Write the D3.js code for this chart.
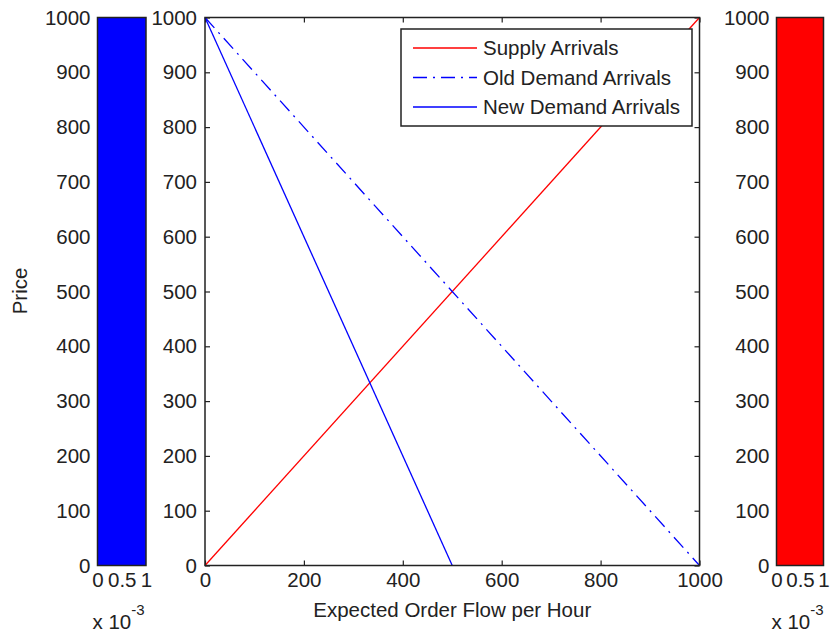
<!DOCTYPE html>
<html>
<head>
<meta charset="utf-8">
<script src="https://cdn.jsdelivr.net/npm/d3@7"></script>
<style>
  body { margin: 0; background: #fff; }
  svg text { font-family: "Liberation Sans", Arial, Helvetica, sans-serif; fill: #222; }
</style>
</head>
<body>
<div id="main-frame"></div>
<script>
// data
const priceTicks = [0, 100, 200, 300, 400, 500, 600, 700, 800, 900, 1000];
const flowTicks = [0, 200, 400, 600, 800, 1000];
const sideTicks = [0, 0.5, 1];
const sideBarX = [0, 1];        // x 10^-3
const sideBarPrice = 1000;

const supplyFlow = [0, 1000];
const supplyPrice = [0, 1000];
const oldDemandFlow = [0, 1000];
const oldDemandPrice = [1000, 0];
const newDemandFlow = [0, 500];
const newDemandPrice = [1000, 0];

const seriesNames = ["Supply Arrivals", "Old Demand Arrivals", "New Demand Arrivals"];

const width = 830, height = 636;
const fontSize = 20.5;

const svg = d3.select("#main-frame")
  .append("svg")
  .attr("width", width)
  .attr("height", height);

const yScale = d3.scaleLinear().domain([0, 1000]).range([565.5, 17.5]);
const xScale = d3.scaleLinear().domain([0, 1000]).range([205, 699.5]);
const leftX = d3.scaleLinear().domain([0, 1]).range([97.5, 146]);
const rightX = d3.scaleLinear().domain([0, 1]).range([776.5, 823.5]);
const fmt = d3.format("d");

function styleAxis(g) {
  g.select(".domain").remove();
  g.selectAll(".tick line").attr("stroke", "#222").attr("stroke-width", 1.2);
  g.selectAll(".tick text")
    .style("font-size", fontSize + "px")
    .style("font-family", "'Liberation Sans', Arial, sans-serif")
    .attr("fill", "#222");
}

// side panels (colour bars)
function sidePanel(xs, color) {
  const g = svg.append("g");
  g.append("rect")
    .attr("x", xs(sideBarX[0]))
    .attr("y", yScale(sideBarPrice))
    .attr("width", xs(sideBarX[1]) - xs(sideBarX[0]))
    .attr("height", yScale(0) - yScale(sideBarPrice))
    .attr("fill", color)
    .attr("stroke", "#222")
    .attr("stroke-width", 1.5);

  g.append("g")
    .attr("transform", `translate(${xs(0)},0)`)
    .call(d3.axisLeft(yScale).tickValues(priceTicks).tickSize(0).tickPadding(7).tickFormat(fmt))
    .call(styleAxis);

  g.append("g")
    .attr("transform", `translate(0,${yScale(0)})`)
    .call(d3.axisBottom(xs).tickValues(sideTicks).tickSize(0).tickPadding(7)
      .tickFormat(d => d === 0.5 ? "0.5" : String(d)))
    .call(styleAxis);

  const exp = g.append("text")
    .attr("x", xs(0) - 5)
    .attr("y", 629)
    .style("font-size", fontSize + "px");
  exp.append("tspan").text("x 10");
  exp.append("tspan").attr("dy", -14).style("font-size", "15px").text("-3");
}

sidePanel(leftX, "#0000ff");
sidePanel(rightX, "#ff0000");

// Price label
svg.append("text")
  .attr("transform", `translate(27,291) rotate(-90)`)
  .attr("text-anchor", "middle")
  .style("font-size", fontSize + "px")
  .text("Price");

// main axes
const main = svg.append("g");

main.append("g")
  .attr("transform", `translate(${xScale(0)},0)`)
  .call(d3.axisLeft(yScale).tickValues(priceTicks).tickSize(-5).tickPadding(8).tickFormat(fmt))
  .call(styleAxis);
main.append("g")
  .attr("transform", `translate(${xScale(1000)},0)`)
  .call(d3.axisRight(yScale).tickValues(priceTicks).tickSize(-5).tickFormat(""))
  .call(styleAxis);
main.append("g")
  .attr("transform", `translate(0,${yScale(0)})`)
  .call(d3.axisBottom(xScale).tickValues(flowTicks).tickSize(-5).tickPadding(7).tickFormat(fmt))
  .call(styleAxis);
main.append("g")
  .attr("transform", `translate(0,${yScale(1000)})`)
  .call(d3.axisTop(xScale).tickValues(flowTicks).tickSize(-5).tickFormat(""))
  .call(styleAxis);

main.append("text")
  .attr("x", (xScale(0) + xScale(1000)) / 2)
  .attr("y", 617)
  .attr("text-anchor", "middle")
  .style("font-size", fontSize + "px")
  .text("Expected Order Flow per Hour");

// lines
const line = d3.line().x(d => xScale(d[0])).y(d => yScale(d[1]));
const series = [
  { pts: d3.zip(supplyFlow, supplyPrice), color: "#ff0000", dash: null },
  { pts: d3.zip(oldDemandFlow, oldDemandPrice), color: "#0000ff", dash: "14,6,2,6" },
  { pts: d3.zip(newDemandFlow, newDemandPrice), color: "#0000ff", dash: null }
];

main.selectAll("path.series")
  .data(series)
  .enter()
  .append("path")
  .attr("class", "series")
  .attr("d", d => line(d.pts))
  .attr("fill", "none")
  .attr("stroke", d => d.color)
  .attr("stroke-width", 1.3)
  .attr("stroke-dasharray", d => d.dash);

// box
main.append("rect")
  .attr("x", xScale(0))
  .attr("y", yScale(1000))
  .attr("width", xScale(1000) - xScale(0))
  .attr("height", yScale(0) - yScale(1000))
  .attr("fill", "none")
  .attr("stroke", "#222")
  .attr("stroke-width", 1.5);

// legend
const legend = main.append("g").attr("transform", "translate(401,29)");
legend.append("rect")
  .attr("width", 291)
  .attr("height", 97)
  .attr("fill", "#fff")
  .attr("stroke", "#222")
  .attr("stroke-width", 1.5);

const rows = legend.selectAll("g.row")
  .data(series)
  .enter()
  .append("g")
  .attr("class", "row")
  .attr("transform", (d, i) => `translate(0,${19 + i * 29.5})`);

rows.append("line")
  .attr("x1", 12).attr("x2", 76)
  .attr("stroke", d => d.color)
  .attr("stroke-width", 1.3)
  .attr("stroke-dasharray", d => d.dash);

rows.append("text")
  .attr("x", 82)
  .attr("dy", "0.35em")
  .style("font-size", fontSize + "px")
  .text((d, i) => seriesNames[i]);
</script>
</body>
</html>
